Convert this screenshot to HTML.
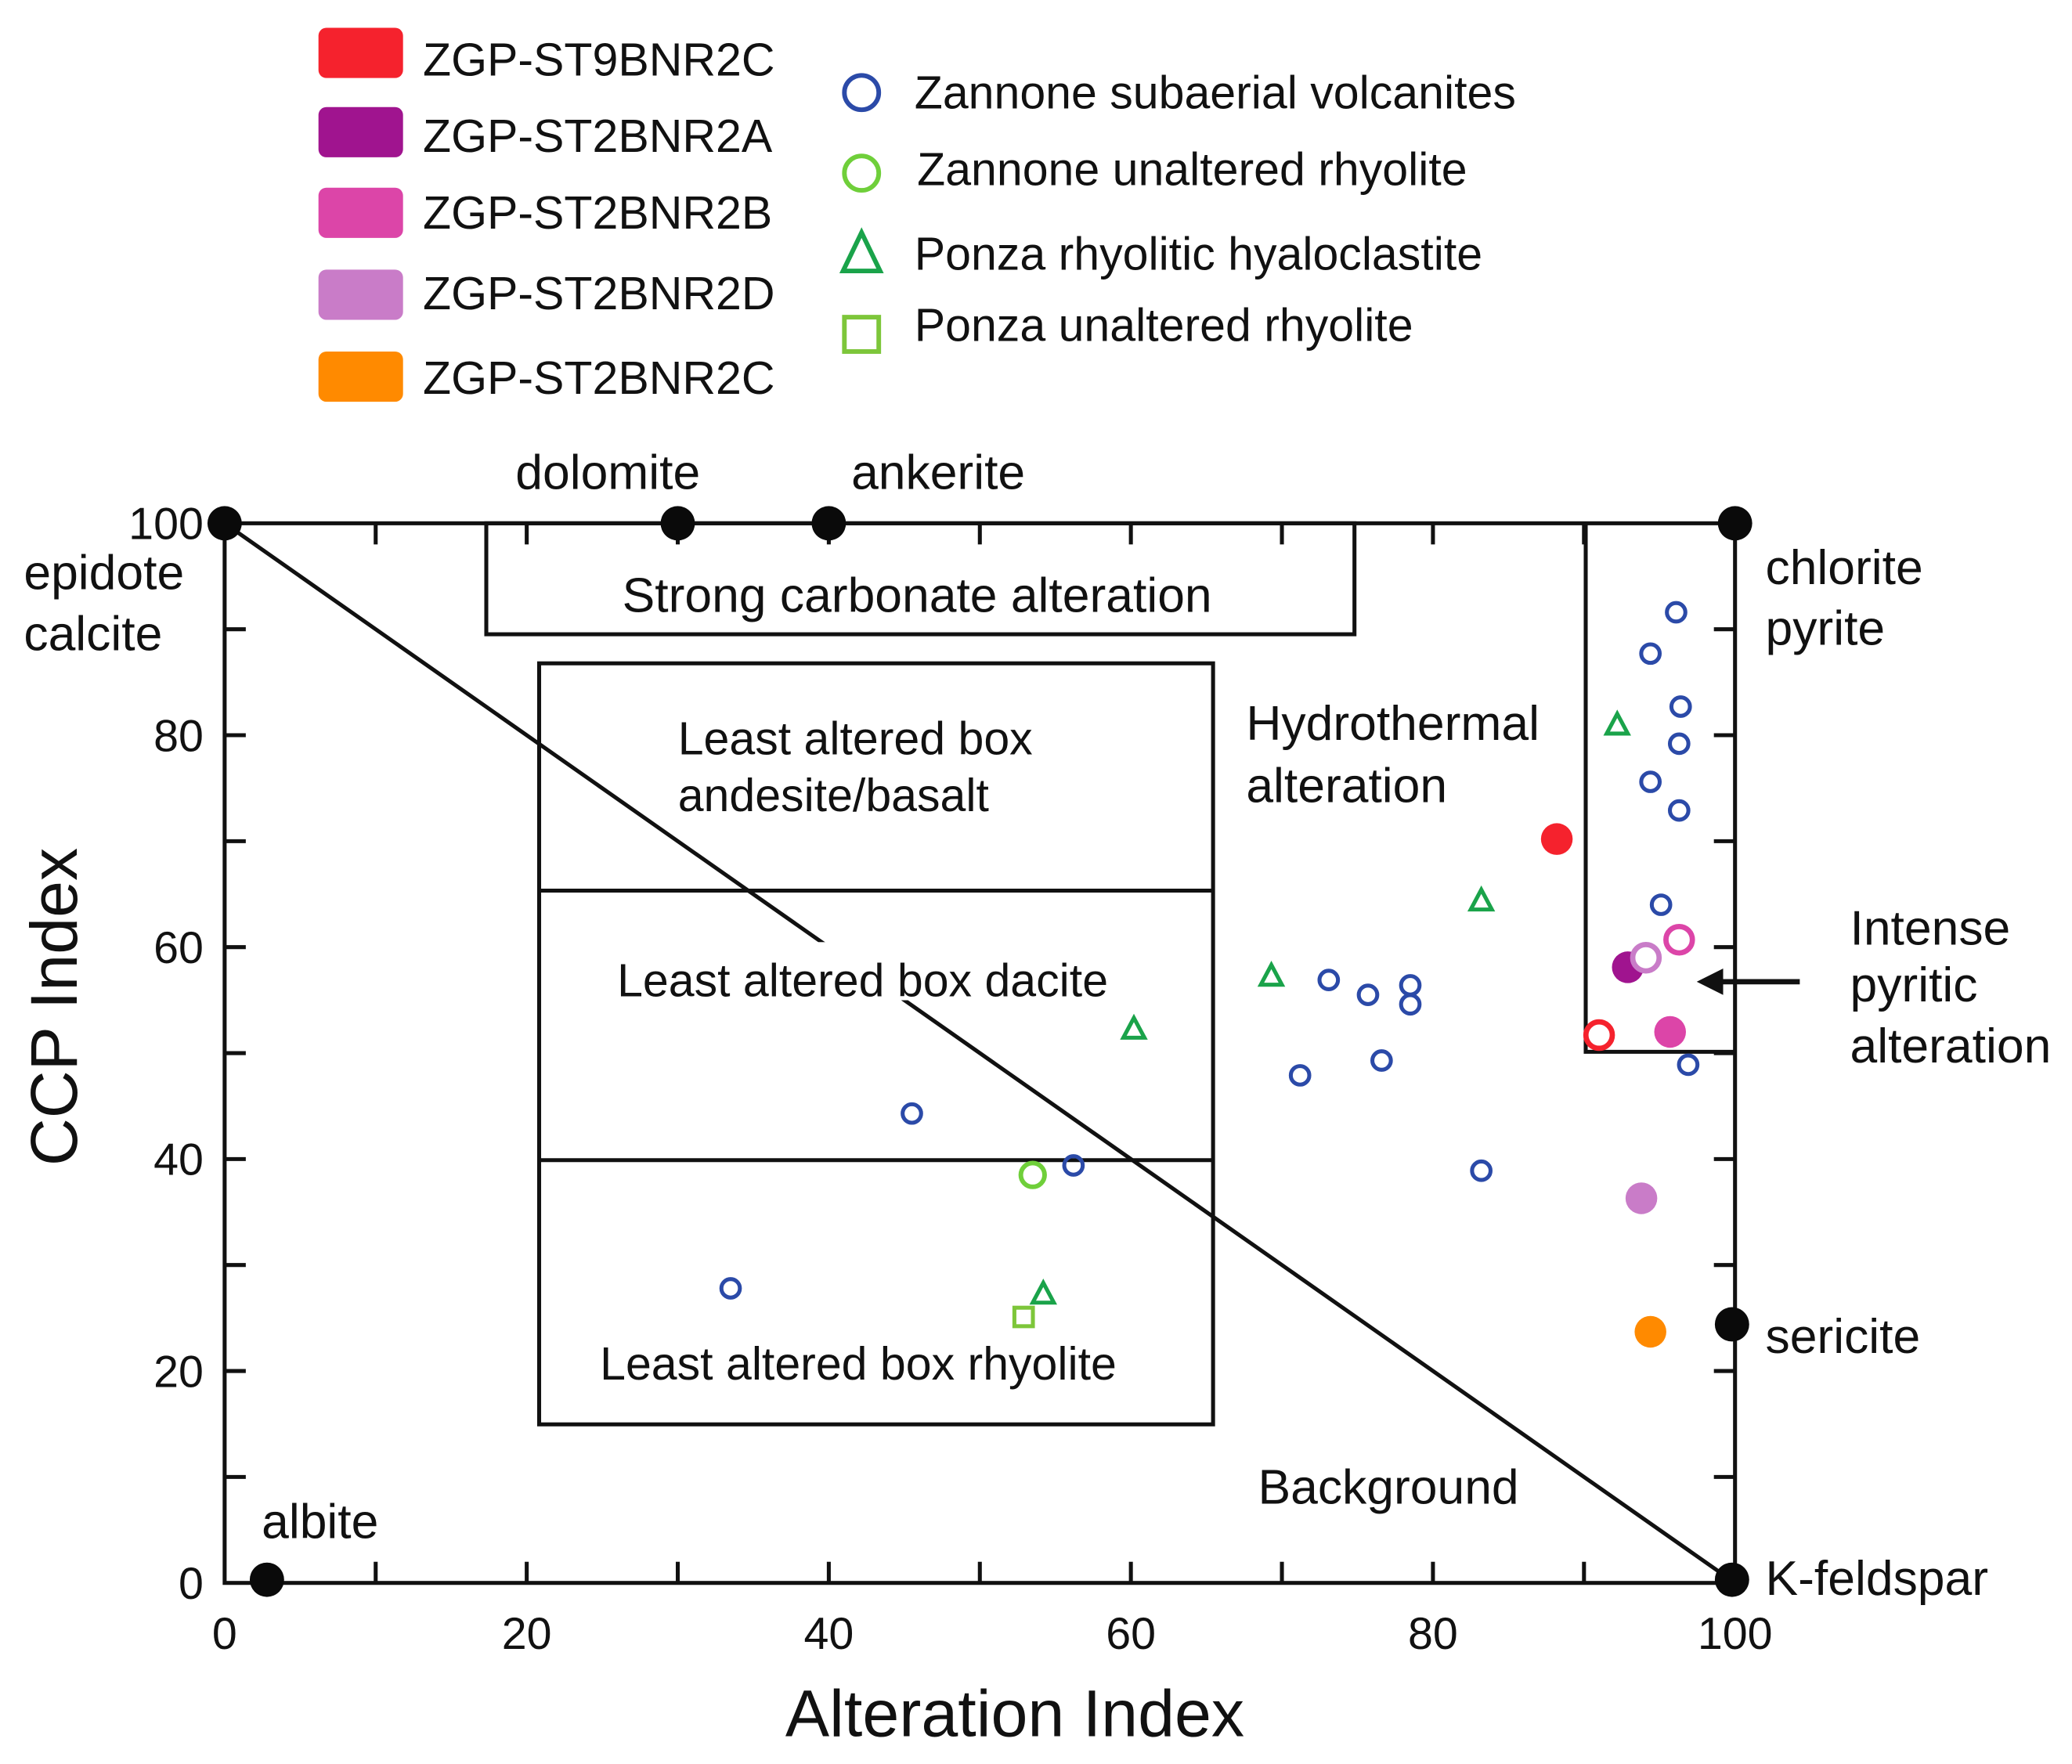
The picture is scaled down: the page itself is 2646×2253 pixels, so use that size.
<!DOCTYPE html>
<html><head><meta charset="utf-8"><style>html,body{margin:0;padding:0;background:#fff}svg{display:block}text{font-family:"Liberation Sans",sans-serif;fill:#111}</style></head>
<body>
<svg id="chart" width="2646" height="2253" viewBox="0 0 1568 1335" xmlns="http://www.w3.org/2000/svg">
<g id="static" stroke="#111" stroke-width="3" fill="none">
<rect x="368" y="396" width="657" height="84"/>
<rect x="408" y="502" width="510" height="576"/>
<line x1="408" y1="674" x2="918" y2="674"/>
<line x1="408" y1="878" x2="918" y2="878"/>
<polyline points="1200,396 1200,796 1313,796"/>
<line x1="170" y1="396" x2="1313" y2="1198"/>
<rect x="170" y="396" width="1143" height="802"/>
<line x1="1362" y1="743" x2="1300" y2="743" stroke-width="4"/>
</g>
<polygon points="1284,743 1304,733 1304,753" fill="#111"/>
<rect x="462" y="713" width="390" height="44" fill="#fff"/>
<g id="ticks"></g>
<g id="labels" font-size="35">
<text x="768" y="1314" font-size="50" text-anchor="middle">Alteration Index</text>
<text transform="translate(58,762) rotate(-90)" font-size="50" text-anchor="middle">CCP Index</text>
<text x="460" y="370" font-size="37" text-anchor="middle">dolomite</text>
<text x="710" y="370" font-size="37" text-anchor="middle">ankerite</text>
<text x="18" y="446" font-size="37">epidote</text>
<text x="18" y="492" font-size="37">calcite</text>
<text x="1336" y="442" font-size="37">chlorite</text>
<text x="1336" y="488" font-size="37">pyrite</text>
<text x="1336" y="1024" font-size="37">sericite</text>
<text x="1336" y="1207" font-size="37">K-feldspar</text>
<text x="198" y="1164" font-size="37">albite</text>
<text x="943" y="560" font-size="37">Hydrothermal</text>
<text x="943" y="607" font-size="37">alteration</text>
<text x="1400" y="715" font-size="37">Intense</text>
<text x="1400" y="758" font-size="37">pyritic</text>
<text x="1400" y="804" font-size="37">alteration</text>
<text x="952" y="1138" font-size="37">Background</text>
<text x="694" y="463" font-size="37" text-anchor="middle">Strong carbonate alteration</text>
<text x="513" y="571">Least  altered box</text>
<text x="513" y="614">andesite/basalt</text>
<text x="467" y="754">Least altered box dacite</text>
<text x="454" y="1044">Least altered box rhyolite</text>
</g>
<g id="legend" font-size="35">
<rect x="241" y="21" width="64" height="38" rx="6" fill="#f5222d"/>
<text x="320" y="57">ZGP-ST9BNR2C</text>
<rect x="241" y="81" width="64" height="38" rx="6" fill="#a0148f"/>
<text x="320" y="115">ZGP-ST2BNR2A</text>
<rect x="241" y="142" width="64" height="38" rx="6" fill="#dc45a8"/>
<text x="320" y="173">ZGP-ST2BNR2B</text>
<rect x="241" y="204" width="64" height="38" rx="6" fill="#c97cc8"/>
<text x="320" y="234">ZGP-ST2BNR2D</text>
<rect x="241" y="266" width="64" height="38" rx="6" fill="#ff8a00"/>
<text x="320" y="298">ZGP-ST2BNR2C</text>
<circle cx="652" cy="70" r="13" fill="none" stroke="#2b4aa8" stroke-width="3.5"/>
<text x="692" y="82">Zannone subaerial volcanites</text>
<circle cx="652" cy="131" r="13" fill="none" stroke="#6fcf3a" stroke-width="3.5"/>
<text x="694" y="140">Zannone unaltered rhyolite</text>
<polygon points="652,176 638,205 666,205" fill="none" stroke="#1aa34a" stroke-width="3.5"/>
<text x="692" y="204">Ponza  rhyolitic hyaloclastite</text>
<rect x="639" y="240" width="26" height="26" fill="none" stroke="#7dc63a" stroke-width="3.5"/>
<text x="692" y="258">Ponza  unaltered rhyolite</text>
</g>
<g id="marks"></g>
</svg>
<script>
var xTicks = [0, 20, 40, 60, 80, 100];
var yTicks = [0, 20, 40, 60, 80, 100];
var volcX = [96.1, 94.4, 96.4, 96.3, 94.4, 96.3, 95.1, 73.1, 75.7, 78.5, 78.5, 76.6, 71.2, 96.9, 45.5, 56.2, 83.2, 33.5];
var volcY = [91.6, 87.7, 82.7, 79.2, 75.6, 72.9, 64.0, 56.9, 55.5, 56.4, 54.6, 49.3, 47.9, 48.9, 44.3, 39.4, 38.9, 27.8];
var zRhyX = [53.5];
var zRhyY = [38.5];
var hyalX = [92.2, 83.2, 69.3, 60.2, 54.2];
var hyalY = [80.9, 64.3, 57.2, 52.2, 27.2];
var pRhyX = [52.9];
var pRhyY = [25.1];
var sampleNames = ['st9bnr2c', 'st9bnr2c-open', 'st2bnr2a', 'st2bnr2b', 'st2bnr2b-open', 'st2bnr2d-open', 'st2bnr2d', 'st2bnr2c'];
var sampleX = [88.2, 91.0, 92.9, 95.7, 96.3, 94.1, 93.8, 94.4];
var sampleY = [70.2, 51.7, 58.1, 52.0, 60.7, 59.0, 36.3, 23.7];
var sampleColor = ['#f5222d', '#f5222d', '#a0148f', '#dc45a8', '#dc45a8', '#c97cc8', '#c97cc8', '#ff8a00'];
var sampleFilled = [true, false, true, true, false, false, true, true];
var mineralNames = ['epidote-calcite', 'dolomite', 'ankerite', 'chlorite-pyrite', 'sericite', 'albite', 'k-feldspar'];
var mineralX = [0, 30, 40, 100, 99.8, 2.8, 99.8];
var mineralY = [100, 100, 100, 100, 24.4, 0.3, 0.3];

var NS = 'http://www.w3.org/2000/svg';
function sx(v){ return 170 + v * 11.43; }
function sy(v){ return 1198 - v * 8.02; }
function mk(tag, attrs, parent){
  var e = document.createElementNS(NS, tag);
  for (var k in attrs) e.setAttribute(k, attrs[k]);
  parent.appendChild(e);
  return e;
}
var ticks = document.getElementById('ticks');
var marks = document.getElementById('marks');
for (var v = 10; v < 100; v += 10) {
  var t1 = mk('line', {x1: sx(v), y1: 1198, x2: sx(v), y2: 1182, stroke: '#111', 'stroke-width': 3}, ticks);
  
  
  var t2 = mk('line', {x1: sx(v), y1: 396, x2: sx(v), y2: 412, stroke: '#111', 'stroke-width': 3}, ticks);
  
  
  var t3 = mk('line', {x1: 170, y1: sy(v), x2: 186, y2: sy(v), stroke: '#111', 'stroke-width': 3}, ticks);
  
  
  var t4 = mk('line', {x1: 1313, y1: sy(v), x2: 1297, y2: sy(v), stroke: '#111', 'stroke-width': 3}, ticks);
  
  
}
xTicks.forEach(function(t){
  var e = mk('text', {x: sx(t), y: 1248, 'font-size': 34, 'text-anchor': 'middle'}, ticks);
  e.textContent = t;
  
  
});
yTicks.forEach(function(t){
  var e = mk('text', {x: 154, y: sy(t) + 12, 'font-size': 34, 'text-anchor': 'end'}, ticks);
  e.textContent = t;
  
  
});
mineralX.forEach(function(x, i){
  var e = mk('circle', {cx: sx(x), cy: sy(mineralY[i]), r: 13, fill: '#0a0a0a'}, marks);
  
  
});
volcX.forEach(function(x, i){
  var e = mk('circle', {cx: sx(x), cy: sy(volcY[i]), r: 7, fill: 'none', stroke: '#2b4aa8', 'stroke-width': 3}, marks);
  
  
});
zRhyX.forEach(function(x, i){
  var e = mk('circle', {cx: sx(x), cy: sy(zRhyY[i]), r: 9, fill: 'none', stroke: '#6fcf3a', 'stroke-width': 3.5}, marks);
  
  
});
hyalX.forEach(function(x, i){
  var cx = sx(x), cy = sy(hyalY[i]);
  var e = mk('polygon', {points: cx + ',' + (cy - 9) + ' ' + (cx - 8) + ',' + (cy + 6) + ' ' + (cx + 8) + ',' + (cy + 6), fill: 'none', stroke: '#1aa34a', 'stroke-width': 3}, marks);
  
  
});
pRhyX.forEach(function(x, i){
  var e = mk('rect', {x: sx(x) - 7, y: sy(pRhyY[i]) - 7, width: 14, height: 14, fill: 'none', stroke: '#7dc63a', 'stroke-width': 3}, marks);
  
  
});
sampleX.forEach(function(x, i){
  var attrs = sampleFilled[i]
    ? {cx: sx(x), cy: sy(sampleY[i]), r: 12, fill: sampleColor[i]}
    : {cx: sx(x), cy: sy(sampleY[i]), r: 10, fill: '#fff', stroke: sampleColor[i], 'stroke-width': 4};
  var e = mk('circle', attrs, marks);
  
  
});
</script>
</body></html>
